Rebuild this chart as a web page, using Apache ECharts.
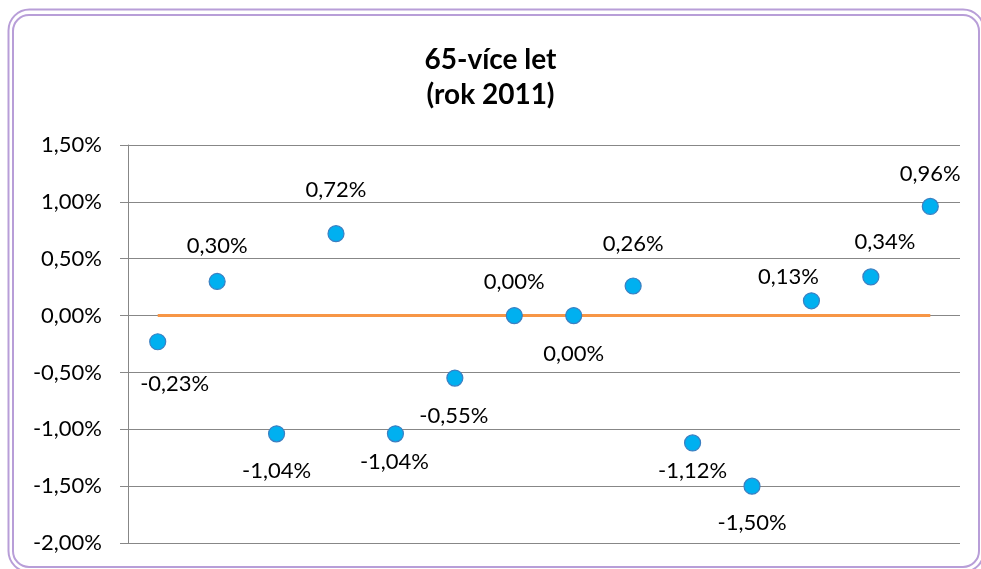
<!DOCTYPE html>
<html>
<head>
<meta charset="utf-8">
<script src="https://cdn.jsdelivr.net/npm/echarts@6/dist/echarts.min.js"></script>
<style>
  html, body { margin: 0; padding: 0; background: #fff; }
  #chart { width: 981px; height: 569px; }
</style>
</head>
<body>
<div id="chart"></div>
<script>
// Change by region, 65+ age group, year 2011 (in percent)
const categories = ['1', '2', '3', '4', '5', '6', '7', '8', '9', '10', '11', '12', '13', '14'];
const values = [-0.23, 0.30, -1.04, 0.72, -1.04, -0.55, 0.00, 0.00, 0.26, -1.12, -1.50, 0.13, 0.34, 0.96];
const baseline = [0, 0, 0, 0, 0, 0, 0, 0, 0, 0, 0, 0, 0, 0];
const yTicks = { min: -2, max: 1.5, step: 0.5 };
const titleLines = ['65-více let', '(rok 2011)'];

// where each value label sits relative to its marker (dx, dy in px)
const labelOffsets = [
  [17, 42], [0, -36], [0, 37], [0, -44], [-1, 28], [-1, 38], [0, -34],
  [0, 38], [0, -42], [0, 28], [0, 37], [-23, -24], [14, -35], [0, -32]
];

const fmt = v => v.toFixed(2).replace('.', ',') + '%';
const FONT = 'Lato';

const chart = echarts.init(document.getElementById('chart'), null, { renderer: 'canvas' });

chart.setOption({
  backgroundColor: '#ffffff',
  animation: false,
  textStyle: { fontFamily: FONT },
  title: {
    text: titleLines.join('\n'),
    left: 'center',
    top: 37,
    textStyle: {
      fontFamily: FONT,
      fontWeight: 'bold',
      fontSize: 28,
      lineHeight: 35,
      color: '#000000'
    }
  },
  grid: { left: 128, right: 21, top: 145, bottom: 26 },
  xAxis: {
    type: 'category',
    data: categories,
    boundaryGap: true,
    axisLine: { show: false },
    axisTick: { show: false },
    axisLabel: { show: false },
    splitLine: { show: false }
  },
  yAxis: {
    type: 'value',
    min: yTicks.min,
    max: yTicks.max,
    interval: yTicks.step,
    axisLine: { show: true, lineStyle: { color: '#878787', width: 1 } },
    axisTick: { show: true, inside: false, length: 8, lineStyle: { color: '#878787' } },
    axisLabel: {
      margin: 26,
      fontFamily: FONT,
      fontSize: 22,
      color: '#000000',
      formatter: v => fmt(v)
    },
    splitLine: { show: true, lineStyle: { color: '#878787', width: 1 } }
  },
  graphic: [
    {
      type: 'rect',
      shape: { x: 8.5, y: 9.5, width: 975.5, height: 562.5, r: 21 },
      style: { fill: null, stroke: '#B89ED8', lineWidth: 2 },
      silent: true, z: 100
    },
    {
      type: 'rect',
      shape: { x: 13, y: 15, width: 966, height: 552, r: 16 },
      style: { fill: null, stroke: '#B89ED8', lineWidth: 2 },
      silent: true, z: 100
    }
  ],
  series: [
    {
      type: 'line',
      data: baseline,
      symbol: 'none',
      lineStyle: { color: '#F79646', width: 3 },
      z: 2,
      silent: true
    },
    {
      type: 'scatter',
      data: values.map((v, i) => ({
        value: v,
        label: { offset: labelOffsets[i] }
      })),
      symbol: 'circle',
      symbolSize: 16,
      itemStyle: { color: '#00B0F0', borderColor: '#3C7FC1', borderWidth: 1.2, opacity: 1 },
      label: {
        show: true,
        position: 'inside',
        align: 'center',
        verticalAlign: 'middle',
        fontFamily: FONT,
        fontSize: 22,
        color: '#000000',
        formatter: p => fmt(p.value)
      },
      z: 3
    }
  ]
});
</script>
</body>
</html>
